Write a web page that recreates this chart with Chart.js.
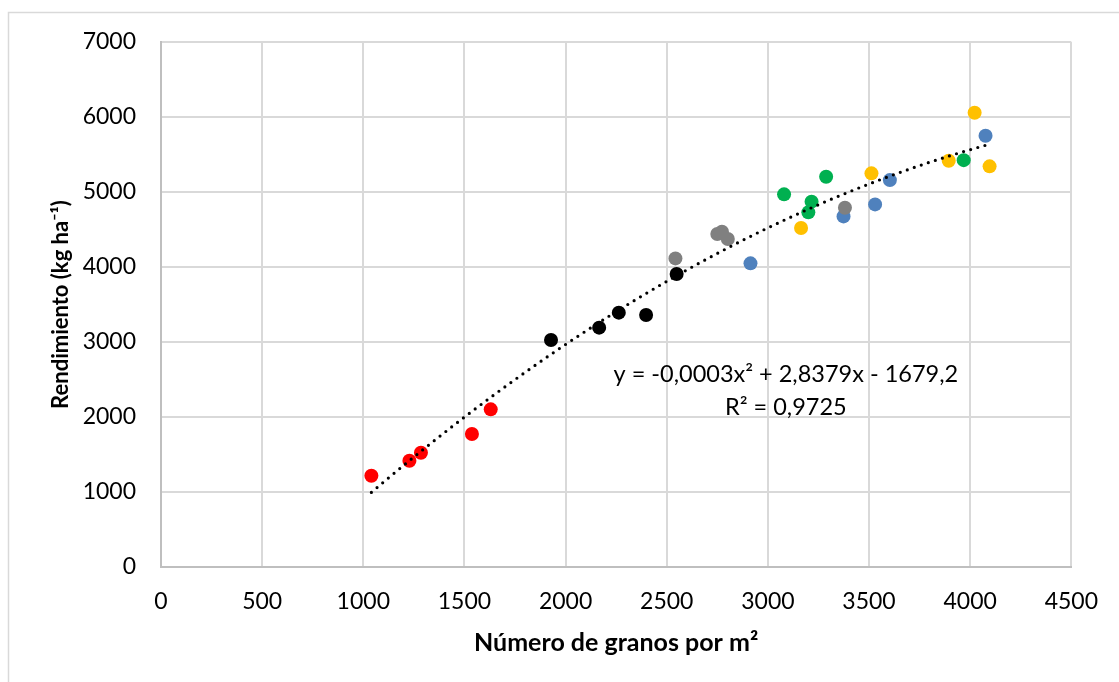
<!DOCTYPE html>
<html lang="es">
<head>
<meta charset="utf-8">
<title>Rendimiento vs número de granos</title>
<script src="https://cdn.jsdelivr.net/npm/chart.js@4/dist/chart.umd.min.js"></script>
<style>
  html, body { margin: 0; padding: 0; background: #fff; }
</style>
</head>
<body>
<canvas id="chart" width="1119" height="682"></canvas>
<script>
// Granos por m2 y rendimiento (kg/ha), un grupo por color
const redX    = [1040, 1228, 1285, 1537, 1630];
const redY    = [1217, 1417, 1524, 1773, 2102];
const blackX  = [1928, 2166, 2263, 2398, 2549];
const blackY  = [3027, 3191, 3391, 3360, 3906];
const grayX   = [2543, 2750, 2773, 2802, 3381];
const grayY   = [4115, 4440, 4471, 4373, 4790];
const blueX   = [2914, 3374, 3530, 3603, 4076];
const blueY   = [4049, 4675, 4835, 5159, 5750];
const greenX  = [3080, 3200, 3216, 3288, 3968];
const greenY  = [4969, 4729, 4871, 5204, 5425];
const yellowX = [3164, 3512, 3894, 4022, 4096];
const yellowY = [4520, 5249, 5417, 6057, 5342];

const equationLines = ['y = -0,0003x\u00B2 + 2,8379x - 1679,2', 'R\u00B2 = 0,9725'];

const FONT = "Lato, 'Open Sans', sans-serif";

function toPoints(xs, ys) {
    return xs.map((x, i) => ({ x: x, y: ys[i] }));
}

// least squares y = a*x^2 + b*x + c (x in thousands to keep sums small)
function quadFit(xs, ys) {
    const s = 1000;
    const S = [0, 0, 0, 0, 0], T = [0, 0, 0];
    xs.forEach((x, i) => {
        const u = x / s;
        for (let k = 0; k < 5; k++) S[k] += Math.pow(u, k);
        for (let k = 0; k < 3; k++) T[k] += ys[i] * Math.pow(u, k);
    });
    const M = [
        [S[0], S[1], S[2], T[0]],
        [S[1], S[2], S[3], T[1]],
        [S[2], S[3], S[4], T[2]]
    ];
    for (let i = 0; i < 3; i++) {
        for (let j = i + 1; j < 3; j++) {
            const f = M[j][i] / M[i][i];
            for (let k = i; k < 4; k++) M[j][k] -= f * M[i][k];
        }
    }
    const r = [0, 0, 0];
    for (let i = 2; i >= 0; i--) {
        let v = M[i][3];
        for (let k = i + 1; k < 3; k++) v -= M[i][k] * r[k];
        r[i] = v / M[i][i];
    }
    return { c: r[0], b: r[1] / s, a: r[2] / (s * s) };
}

const allX = [].concat(redX, blackX, grayX, blueX, greenX, yellowX);
const allY = [].concat(redY, blackY, grayY, blueY, greenY, yellowY);
const fit = quadFit(allX, allY);
const minX = Math.min(...allX), maxX = Math.max(...allX);
const trend = [];
for (let i = 0; i <= 60; i++) {
    const x = minX + (maxX - minX) * i / 60;
    trend.push({ x: x, y: fit.a * x * x + fit.b * x + fit.c });
}

function scatterSet(label, xs, ys, color) {
    return {
        type: 'scatter',
        label: label,
        data: toPoints(xs, ys),
        backgroundColor: color,
        borderColor: color,
        borderWidth: 0,
        pointRadius: 7,
        pointHoverRadius: 7
    };
}

// outer frame + trendline equation
const decorPlugin = {
    id: 'decor',
    beforeDraw: (chart) => {
        const ctx = chart.ctx;
        ctx.save();
        ctx.fillStyle = '#ffffff';
        ctx.fillRect(0, 0, chart.width, chart.height);
        ctx.strokeStyle = '#D9D9D9';
        ctx.lineWidth = 1.5;
        ctx.strokeRect(8.5, 12.5, chart.width + 20, chart.height + 20);
        ctx.restore();
    },
    afterDraw: (chart) => {
        const ctx = chart.ctx;
        const area = chart.chartArea;
        const cx = area.left + (area.right - area.left) * 0.6864;
        ctx.save();
        ctx.fillStyle = '#000000';
        ctx.font = '23.5px ' + FONT;
        ctx.textAlign = 'center';
        ctx.textBaseline = 'alphabetic';
        ctx.fillText(equationLines[0], cx, 382);
        ctx.fillText(equationLines[1], cx, 414.5);
        ctx.restore();
    }
};

const plainTick = (value) => String(value);

new Chart(document.getElementById('chart'), {
    type: 'scatter',
    data: {
        datasets: [
            {
                type: 'line',
                label: 'Tendencia',
                data: trend,
                borderColor: '#000000',
                borderWidth: 3.2,
                borderDash: [0, 7.4],
                borderCapStyle: 'round',
                pointRadius: 0,
                fill: false,
                tension: 0,
                order: -1
            },
            scatterSet('Rojo', redX, redY, '#FF0000'),
            scatterSet('Negro', blackX, blackY, '#000000'),
            scatterSet('Gris', grayX, grayY, '#808080'),
            scatterSet('Azul', blueX, blueY, '#4F81BD'),
            scatterSet('Verde', greenX, greenY, '#00B050'),
            scatterSet('Amarillo', yellowX, yellowY, '#FFC000')
        ]
    },
    options: {
        responsive: false,
        animation: false,
        layout: { padding: { top: 42, right: 45, left: 0, bottom: 0 } },
        plugins: {
            legend: { display: false },
            tooltip: { enabled: false }
        },
        scales: {
            x: {
                type: 'linear',
                min: 0,
                max: 4500,
                ticks: {
                    stepSize: 500,
                    padding: 21,
                    color: '#000000',
                    font: { family: FONT, size: 23 },
                    callback: plainTick
                },
                grid: { color: '#D9D9D9', lineWidth: 2, drawTicks: false },
                border: { color: '#BFBFBF', width: 2 },
                title: {
                    display: true,
                    text: 'Número de granos por m\u00B2',
                    color: '#000000',
                    font: { family: FONT, size: 25, weight: 'bold' },
                    padding: { top: 0, bottom: 24 }
                },
                afterFit: (scale) => { scale.height = 115; }
            },
            y: {
                type: 'linear',
                min: 0,
                max: 7000,
                ticks: {
                    stepSize: 1000,
                    padding: 25,
                    color: '#000000',
                    font: { family: FONT, size: 23 },
                    callback: plainTick
                },
                grid: { color: '#D9D9D9', lineWidth: 2, drawTicks: false },
                border: { color: '#BFBFBF', width: 2 },
                title: {
                    display: true,
                    text: 'Rendimiento (kg ha\u207B\u00B9)',
                    color: '#000000',
                    font: { family: FONT, size: 22, weight: 'bold' },
                    padding: { top: 48, bottom: 0 }
                },
                afterFit: (scale) => { scale.width = 161; }
            }
        }
    },
    plugins: [decorPlugin]
});
</script>
</body>
</html>
